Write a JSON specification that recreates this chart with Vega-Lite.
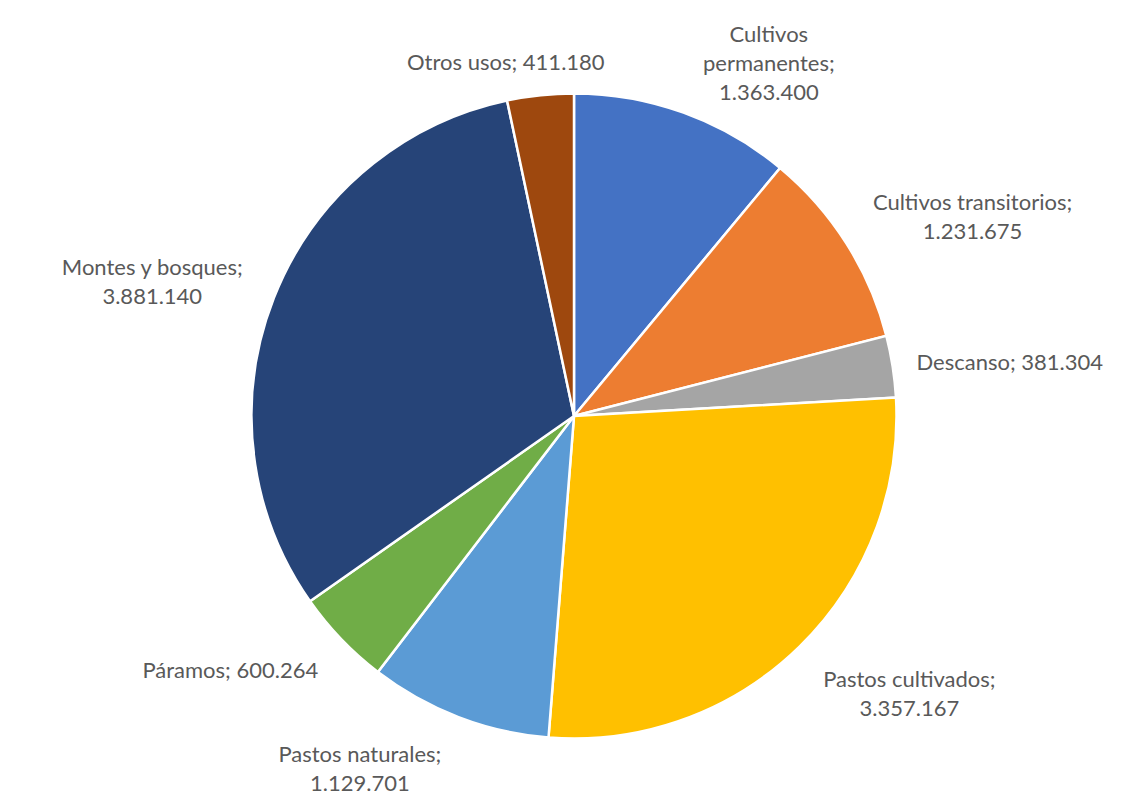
{
  "$schema": "https://vega.github.io/schema/vega-lite/v6.json",
  "autosize": {"type": "none"},
  "padding": {"left": 19, "top": 20, "right": 0, "bottom": 0},
  "width": 1110,
  "height": 792,
  "background": "white",
  "config": {
    "view": {"stroke": null},
    "text": {"font": "Lato", "fontSize": 22, "fill": "#595959", "lineHeight": 29, "lineBreak": "\n", "align": "center", "baseline": "middle"}
  },
  "data": {
    "values": [
      {"idx": 1, "cat": "Cultivos permanentes", "value": 1363400, "label": "Cultivos\npermanentes;\n1.363.400"},
      {"idx": 2, "cat": "Cultivos transitorios", "value": 1231675, "label": "Cultivos transitorios;\n1.231.675"},
      {"idx": 3, "cat": "Descanso", "value": 381304, "label": "Descanso; 381.304"},
      {"idx": 4, "cat": "Pastos cultivados", "value": 3357167, "label": "Pastos cultivados;\n3.357.167"},
      {"idx": 5, "cat": "Pastos naturales", "value": 1129701, "label": "Pastos naturales;\n1.129.701"},
      {"idx": 6, "cat": "Páramos", "value": 600264, "label": "Páramos; 600.264"},
      {"idx": 7, "cat": "Montes y bosques", "value": 3881140, "label": "Montes y bosques;\n3.881.140"},
      {"idx": 8, "cat": "Otros usos", "value": 411180, "label": "Otros usos; 411.180"}
    ]
  },
  "encoding": {
    "theta": {"field": "value", "type": "quantitative", "stack": true},
    "order": {"field": "idx", "type": "quantitative", "sort": "ascending"}
  },
  "layer": [
    {
      "mark": {"type": "arc", "outerRadius": 322.5, "stroke": "white", "strokeWidth": 2.5},
      "encoding": {
        "color": {
          "field": "cat", "type": "nominal", "legend": null,
          "scale": {
            "domain": ["Cultivos permanentes", "Cultivos transitorios", "Descanso", "Pastos cultivados", "Pastos naturales", "Páramos", "Montes y bosques", "Otros usos"],
            "range": ["#4472C4", "#ED7D31", "#A5A5A5", "#FFC000", "#5B9BD5", "#70AD47", "#264478", "#9E480E"]
          }
        }
      }
    },
    {
      "mark": {"type": "text", "radius": 428, "thetaOffset": 0.126},
      "encoding": {"text": {"condition": {"test": "datum.idx == 1 || datum.idx == 6", "field": "label"}, "value": ""}}
    },
    {
      "mark": {"type": "text", "radius": 452, "thetaOffset": 0.073},
      "encoding": {"text": {"condition": {"test": "datum.idx == 2", "field": "label"}, "value": ""}}
    },
    {
      "mark": {"type": "text", "radius": 439, "thetaOffset": 0.033},
      "encoding": {"text": {"condition": {"test": "datum.idx == 3", "field": "label"}, "value": ""}}
    },
    {
      "mark": {"type": "text", "radius": 427, "thetaOffset": -0.129},
      "encoding": {"text": {"condition": {"test": "datum.idx == 4", "field": "label"}, "value": ""}}
    },
    {
      "mark": {"type": "text", "radius": 401, "thetaOffset": 0.197},
      "encoding": {"text": {"condition": {"test": "datum.idx == 5", "field": "label"}, "value": ""}}
    },
    {
      "mark": {"type": "text", "radius": 447, "thetaOffset": -0.037},
      "encoding": {"text": {"condition": {"test": "datum.idx == 7", "field": "label"}, "value": ""}}
    },
    {
      "mark": {"type": "text", "radius": 360, "thetaOffset": -0.086},
      "encoding": {"text": {"condition": {"test": "datum.idx == 8", "field": "label"}, "value": ""}}
    }
  ]
}
